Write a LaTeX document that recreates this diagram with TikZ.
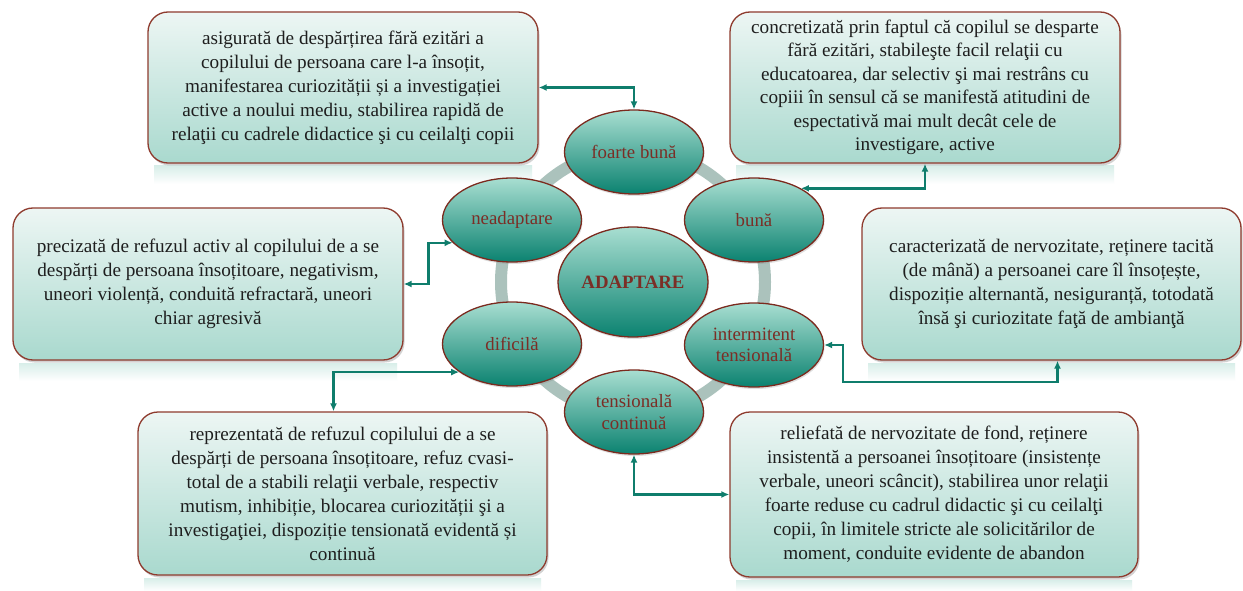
\documentclass[tikz,border=0pt]{standalone}
\usepackage{fontspec}
\setmainfont{Liberation Serif}
\usetikzlibrary{shapes.geometric,arrows.meta,shadows,calc}
\definecolor{boxline}{HTML}{8E3B2E}
\definecolor{boxtop}{HTML}{EDF6F4}
\definecolor{boxbot}{HTML}{A9D9CE}
\definecolor{ellline}{HTML}{7B2A1E}
\definecolor{elltop}{HTML}{A8DED1}
\definecolor{ellmid}{HTML}{5DB0A0}
\definecolor{ellbot}{HTML}{0B8270}
\definecolor{elltxt}{HTML}{7B2E26}
\definecolor{ringc}{HTML}{ABC2BC}
\definecolor{arrowc}{HTML}{0F7D6C}
\definecolor{txt}{HTML}{1E1E1E}
\begin{document}
\begin{tikzpicture}[x=1pt,y=-1pt,
 descbox/.style={draw=boxline, line width=1.3pt, rounded corners=20pt,
   top color=boxtop, bottom color=boxbot, align=center,
   font=\fontsize{19.2}{24}\selectfont, text=txt, inner sep=0pt,
   drop shadow={opacity=0.35, shadow xshift=1.5pt, shadow yshift=-2.5pt}},
 ell/.style={ellipse, draw=ellline, line width=1.3pt, top color=elltop,
   middle color=ellmid, bottom color=ellbot, minimum width=139pt,
   minimum height=84pt, align=center, inner sep=0pt,
   font=\fontsize{18.8}{21.5}\selectfont, text=elltxt,
   drop shadow={opacity=0.25, shadow xshift=1pt, shadow yshift=-2pt}},
 conn/.style={draw=arrowc, line width=2.4pt,
   {Latex[length=8pt,width=7pt]}-{Latex[length=8pt,width=7pt]}},
 refl/.style={top color=boxbot!45!white, bottom color=white, draw=none}
]
\useasboundingbox (0,0) rectangle (1243,591);
\fill[white] (0,0) rectangle (1243,591);

% reflections
\shade[refl] (154,166) rectangle (532,184);
\shade[refl] (736,166) rectangle (1114,184);
\shade[refl] (19,363) rectangle (397,381);
\shade[refl] (868,363) rectangle (1235,381);
\shade[refl] (144,578) rectangle (541,591);
\shade[refl] (736,580) rectangle (1132,591);

% ring
\draw[line width=12pt, ringc] (633,282) circle[radius=132pt];

% description boxes
\node[descbox, minimum width=390pt, minimum height=151pt] (b1) at (343,87.5)
 {asigurată de despărțirea fără ezitări a\\
  copilului de persoana care l-a însoțit,\\
  manifestarea curiozității și a investigației\\
  active a noului mediu, stabilirea rapidă de\\
  relaţii cu cadrele didactice şi cu ceilalţi copii};
\node[descbox, minimum width=390pt, minimum height=151pt,
      font=\fontsize{19.2}{23.5}\selectfont] (b2) at (925,87.5)
 {concretizată prin faptul că copilul se desparte\\
  fără ezitări, stabileşte facil relaţii cu\\
  educatoarea, dar selectiv şi mai restrâns cu\\
  copiii în sensul că se manifestă atitudini de\\
  espectativă mai mult decât cele de\\
  investigare, active};
\node[descbox, minimum width=390pt, minimum height=152pt] (b3) at (208,284)
 {precizată de refuzul activ al copilului de a se\\
  despărți de persoana însoțitoare, negativism,\\
  uneori violență, conduită refractară, uneori\\
  chiar agresivă};
\node[descbox, minimum width=379pt, minimum height=152pt] (b4) at (1051.5,284)
 {caracterizată de nervozitate, reținere tacită\\
  (de mână) a persoanei care îl însoțește,\\
  dispoziție alternantă, nesiguranță, totodată\\
  însă şi curiozitate faţă de ambianţă};
\node[descbox, minimum width=409pt, minimum height=163pt] (b5) at (342.5,493.5)
 {reprezentată de refuzul copilului de a se\\
  despărți de persoana însoțitoare, refuz cvasi-\\
  total de a stabili relaţii verbale, respectiv\\
  mutism, inhibiție, blocarea curiozității şi a\\
  investigaţiei, dispoziție tensionată evidentă și\\
  continuă};
\node[descbox, minimum width=408pt, minimum height=165pt] (b6) at (934,494.5)
 {reliefată de nervozitate de fond, reținere\\
  insistentă a persoanei însoțitoare (insistențe\\
  verbale, uneori scâncit), stabilirea unor relaţii\\
  foarte reduse cu cadrul didactic şi cu ceilalţi\\
  copii, în limitele stricte ale solicitărilor de\\
  moment, conduite evidente de abandon};

% ellipses
\node[ell] (fb) at (634,152) {foarte bună};
\node[ell] (bu) at (754,220) {bună};
\node[ell] (it) at (754,345) {intermitent\\tensională};
\node[ell] (tc) at (634,412) {tensională\\continuă};
\node[ell] (di) at (512,344) {dificilă};
\node[ell] (ne) at (512,220) {neadaptare};
\node[ell, minimum width=150pt, minimum height=110pt,
      font=\fontsize{18.8}{21.5}\selectfont\bfseries] (ad) at (633,282) {ADAPTARE};

% connectors
\coordinate (c5) at (843,382);
\draw[conn] (b1.east) -| (fb.north);
\draw[conn] (bu.34) -| (b2.south);
\draw[conn] (b3.east) -- ++(25,0) |- (ne.201);
\draw[conn] (di.208) -| ([xshift=-9pt]b5.north);
\draw[conn] (it.east) -| (c5) -| ([xshift=6pt]b4.south);
\draw[conn] (tc.south) |- (b6.west);
\end{tikzpicture}
\end{document}
